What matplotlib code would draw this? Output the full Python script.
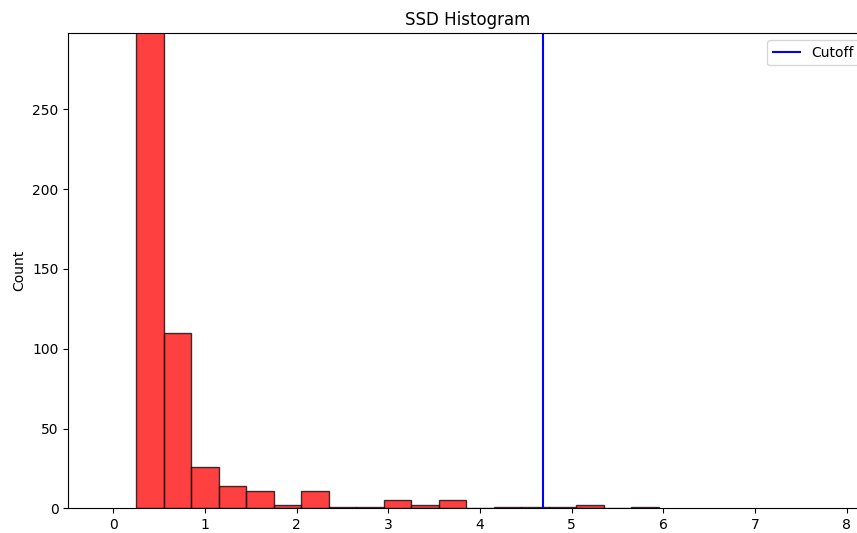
import numpy as np
import matplotlib
matplotlib.use("Agg")
import matplotlib.pyplot as plt

# Histogram bins (width 0.3, starting at 0.25)
bin_left = [0.25, 0.55, 0.85, 1.15, 1.45, 1.75, 2.05, 2.35, 2.65, 2.95,
            3.25, 3.55, 3.85, 4.15, 4.45, 4.75, 5.05, 5.35, 5.65]
counts = [600, 110, 26, 14, 11, 2, 11, 1, 1, 5,
          2, 5, 0, 1, 1, 1, 2, 0, 1]
bin_width = 0.3
cutoff = 4.69

fig = plt.figure(figsize=(8.57, 5.33), dpi=100)
# axes runs past the right edge, as in the cropped original
ax = fig.add_axes([0.0797, 0.0463, 0.9315, 0.891])

ax.bar(bin_left, counts, width=bin_width, align="edge",
       color="red", alpha=0.75, edgecolor="black", linewidth=1)
ax.axvline(cutoff, color="blue", label="Cutoff")

ax.set_xlim(-0.49, 8.215)
ax.set_ylim(0, 297.6)
ax.set_xticks(range(0, 9))
ax.set_yticks(range(0, 300, 50))
ax.set_ylabel("Count")
ax.set_title("SSD Histogram")
ax.legend(loc="upper right")

fig.savefig("out.png", dpi=100)
